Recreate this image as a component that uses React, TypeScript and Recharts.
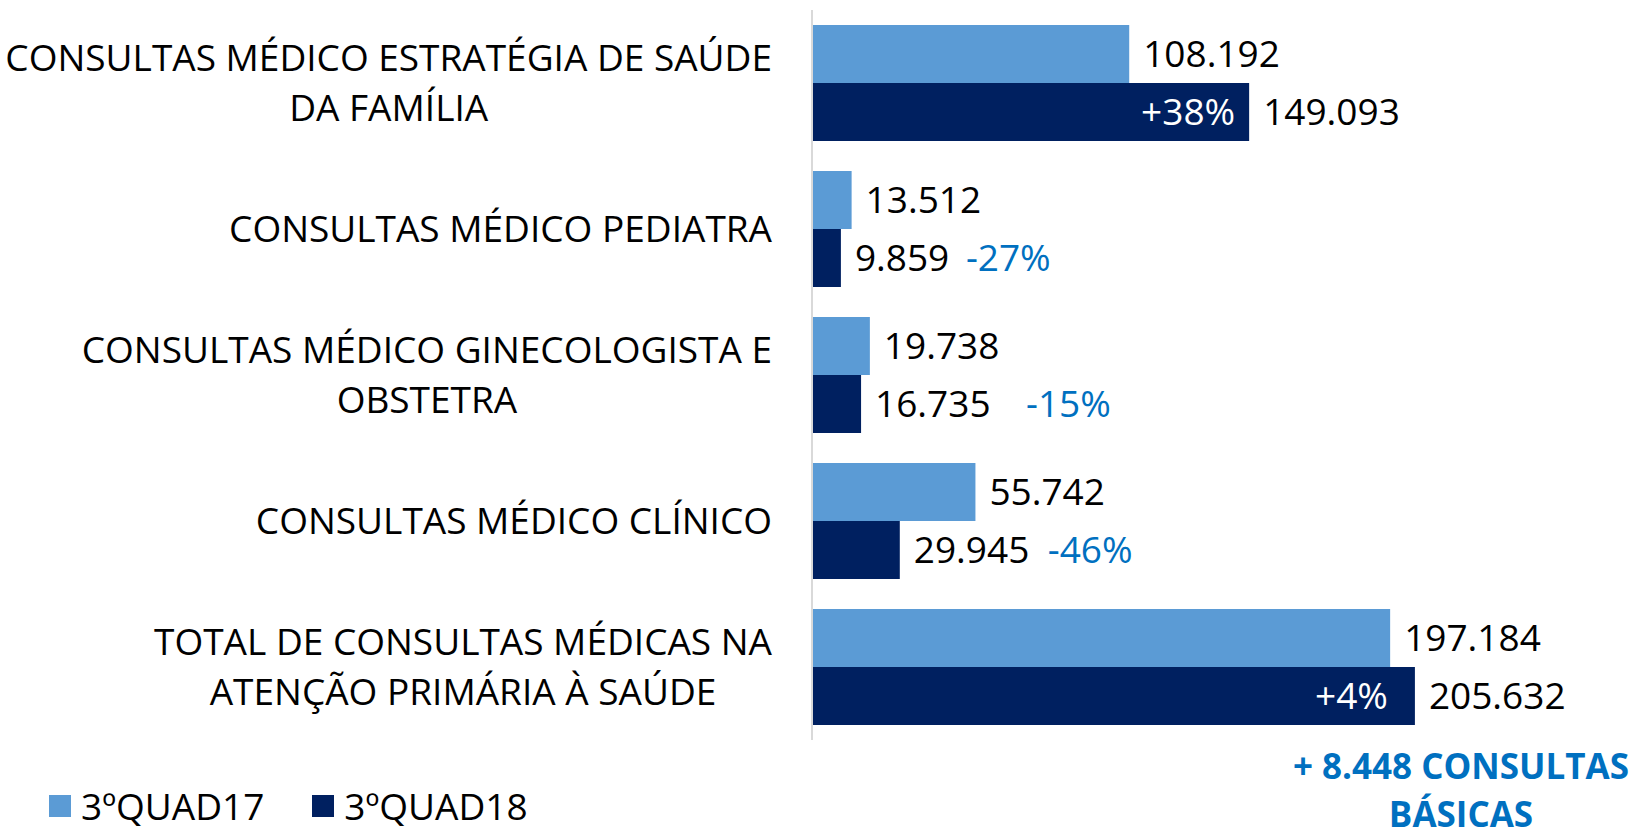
import { BarChart, Bar, XAxis, YAxis, LabelList } from "recharts";

const categories = [
  "CONSULTAS MÉDICO ESTRATÉGIA DE SAÚDE\nDA FAMÍLIA",
  "CONSULTAS MÉDICO PEDIATRA",
  "CONSULTAS MÉDICO GINECOLOGISTA E\nOBSTETRA",
  "CONSULTAS MÉDICO CLÍNICO",
  "TOTAL DE CONSULTAS MÉDICAS NA\nATENÇÃO PRIMÁRIA À SAÚDE",
];
const quad17 = [108192, 13512, 19738, 55742, 197184];
const quad18 = [149093, 9859, 16735, 29945, 205632];
const changes = ["+38%", "-27%", "-15%", "-46%", "+4%"];
const seriesNames = ["3ºQUAD17", "3ºQUAD18"];
const note = ["+ 8.448 CONSULTAS", "BÁSICAS"];

const FONT = "'Open Sans', sans-serif";
const FONT_SIZE = 37;
const LIGHT = "#5B9BD5";
const DARK = "#002060";
const ACCENT = "#0070C0";

// where each change label sits, measured from the end of the 2018 bar
const changeDx = [-14, 125, 165, 148, -27];

const data = categories.map((name, i) => ({ name, q17: quad17[i], q18: quad18[i] }));

function fmt(v: number): string {
  return String(v).replace(/\B(?=(\d{3})+(?!\d))/g, ".");
}

let canvas: HTMLCanvasElement | null = null;
function textWidth(s: string): number {
  if (!canvas) canvas = document.createElement("canvas");
  const ctx = canvas.getContext("2d");
  if (!ctx) return s.length * FONT_SIZE * 0.55;
  ctx.font = `${FONT_SIZE}px 'Open Sans'`;
  return ctx.measureText(s).width;
}

function CategoryTick(props: any) {
  const { x, y, payload } = props;
  const lines: string[] = String(payload.value).split("\n");
  const w = Math.max(...lines.map(textWidth));
  const cx = x - w / 2;
  const lh = 50;
  const y0 = y - ((lines.length - 1) * lh) / 2;
  return (
    <g>
      {lines.map((l, i) => (
        <text key={i} x={cx} y={y0 + i * lh} dy="0.36em" textAnchor="middle" fontFamily={FONT} fontSize={FONT_SIZE} fill="#000">
          {l}
        </text>
      ))}
    </g>
  );
}

function ChangeLabel(props: any) {
  const { x, y, width, height, index } = props;
  const label = changes[index];
  const inside = label.startsWith("+");
  const end = x + width;
  return (
    <text
      x={end + changeDx[index]}
      y={y + height / 2}
      dy="0.36em"
      textAnchor={inside ? "end" : "start"}
      fontFamily={FONT}
      fontSize={FONT_SIZE}
      fill={inside ? "#fff" : ACCENT}
    >
      {label}
    </text>
  );
}

export default function App() {
  return (
    <div style={{ position: "absolute", left: 0, top: 0, width: 1635, height: 827, background: "#fff", overflow: "hidden" }}>
      <BarChart
        width={1635}
        height={827}
        data={data}
        layout="vertical"
        margin={{ top: 10, right: 90, bottom: 87, left: 0 }}
        barCategoryGap={15}
        barGap={0}
      >
        <XAxis type="number" domain={[0, 250000]} hide />
        <YAxis
          type="category"
          dataKey="name"
          width={812}
          tickSize={0}
          tickMargin={40}
          tickLine={false}
          axisLine={{ stroke: "#D9D9D9", strokeWidth: 2 }}
          tick={<CategoryTick />}
          interval={0}
        />
        <Bar dataKey="q17" name={seriesNames[0]} fill={LIGHT} isAnimationActive={false}>
          <LabelList dataKey="q17" position="right" offset={14} formatter={(v: any) => fmt(Number(v))} fill="#000" fontFamily={FONT} fontSize={FONT_SIZE} />
        </Bar>
        <Bar dataKey="q18" name={seriesNames[1]} fill={DARK} isAnimationActive={false}>
          <LabelList dataKey="q18" position="right" offset={14} formatter={(v: any) => fmt(Number(v))} fill="#000" fontFamily={FONT} fontSize={FONT_SIZE} />
          <LabelList dataKey="q18" content={<ChangeLabel />} />
        </Bar>
      </BarChart>

      <div style={{ position: "absolute", left: 49, top: 787, display: "flex", alignItems: "center", fontFamily: FONT, fontSize: FONT_SIZE, color: "#000", lineHeight: "38px" }}>
        {seriesNames.map((n, i) => (
          <div key={n} style={{ display: "flex", alignItems: "center", marginRight: i === 0 ? 48 : 0 }}>
            <span style={{ display: "inline-block", width: 22, height: 22, background: i === 0 ? LIGHT : DARK, marginRight: 10 }} />
            <span>{n}</span>
          </div>
        ))}
      </div>

      <div style={{ position: "absolute", left: 1280, width: 362, top: 742, textAlign: "center", fontFamily: FONT, fontWeight: 700, fontSize: 35, color: ACCENT, lineHeight: "48px" }}>
        {note.map((l) => (
          <div key={l}>{l}</div>
        ))}
      </div>
    </div>
  );
}
